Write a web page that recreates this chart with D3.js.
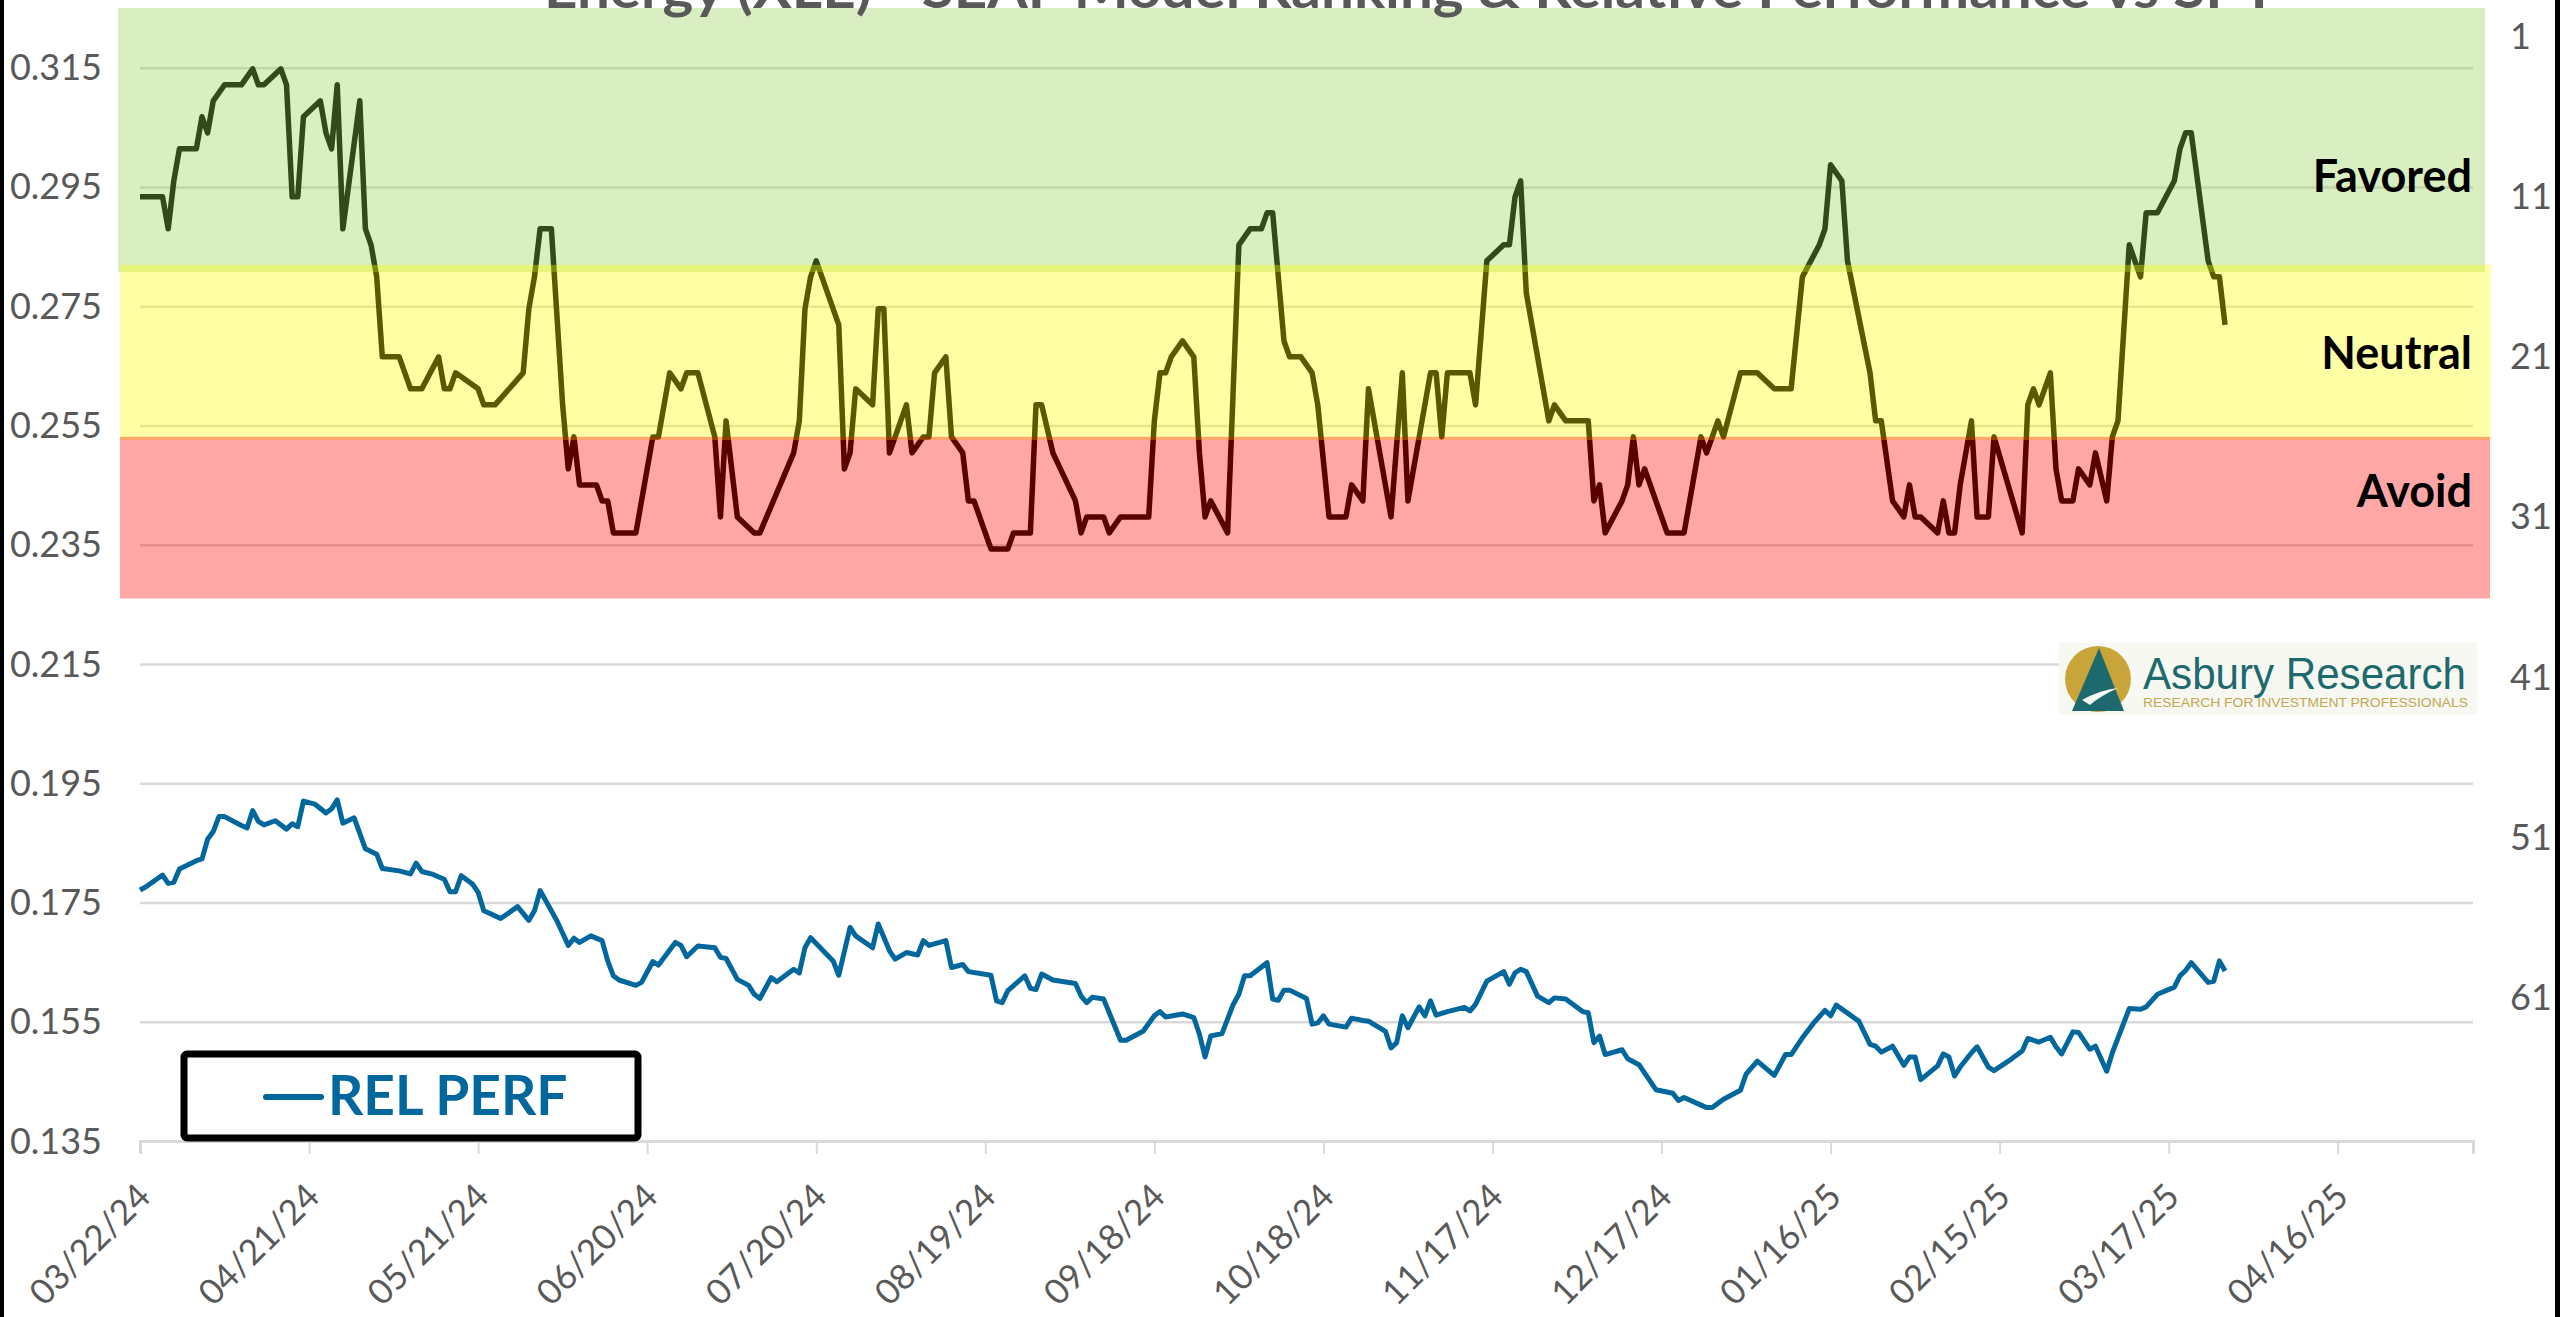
<!DOCTYPE html>
<html>
<head>
<meta charset="utf-8">
<script src="https://cdn.jsdelivr.net/npm/d3@7"></script>
<style>
    body { margin: 0; background: #ffffff; }
    svg { display: block; }
    .axis-label { font-family: Lato, "Open Sans", sans-serif; font-size: 36px; fill: #595959; }
    .xlabel { font-size: 35px; }
    .band-label { font-family: Lato, sans-serif; font-weight: 700; font-size: 45px; fill: #000000; }
</style>
</head>
<body>
<div id="chart"></div>
<script>

// chart text
const chartTitle = "Energy (XLE) - SEAF Model Ranking & Relative Performance vs SPY";
const legendLabel = "REL PERF";

// x axis: 30-day steps starting at the first date
const startDate = "03/22/24";
const dateTicks = ["03/22/24", "04/21/24", "05/21/24", "06/20/24", "07/20/24", "08/19/24", "09/18/24",
    "10/18/24", "11/17/24", "12/17/24", "01/16/25", "02/15/25", "03/17/25", "04/16/25"];

// left axis (relative performance) and right axis (model ranking, reversed)
const perfTicks = [0.135, 0.155, 0.175, 0.195, 0.215, 0.235, 0.255, 0.275, 0.295, 0.315];
const rankTicks = [1, 11, 21, 31, 41, 51, 61];

// ranking zones, in rank units
const bandNames = ["Favored", "Neutral", "Avoid"];
const bandRanks = [[-0.8, 15.7], [15.25, 26.2], [26, 36.1]];
const bandLabelRanks = [9.7, 20.8, 29.4];

// SEAF model ranking: [days after start date, rank]
const rankPoints = [
    [0,11],[4,11],[5,13],[6,10],[7,8],[10,8],[11,6],[12,7],[13,5],[15,4],[18,4],[20,3],[21,4],[22,4],
    [25,3],[26,4],[27,11],[28,11],[29,6],[32,5],[33,7],[34,8],[35,4],[36,13],[39,5],[40,13],[41,14],
    [42,16],[43,21],[46,21],[48,23],[50,23],[53,21],[54,23],[55,23],[56,22],[60,23],[61,24],[63,24],
    [68,22],[69,18],[70,16],[71,13],[73,13],[75,24],[76,28],[77,26],[78,29],[81,29],[82,30],[83,30],
    [84,32],[88,32],[91,26],[92,26],[94,22],[96,23],[97,22],[99,22],[102,26],[103,31],[104,25],[106,31],
    [109,32],[110,32],[116,27],[117,25],[118,18],[119,16],[120,15],[124,19],[125,28],[126,27],[127,23],
    [130,24],[131,18],[132,18],[133,27],[136,24],[137,27],[139,26],[140,26],[141,22],[143,21],[144,26],
    [146,27],[147,30],[148,30],[151,33],[154,33],[155,32],[158,32],[159,24],[160,24],[162,27],[166,30],
    [167,32],[168,31],[171,31],[172,32],[174,31],[179,31],[180,25],[181,22],[182,22],[183,21],[185,20],
    [187,21],[188,27],[189,31],[190,30],[193,32],[195,14],[197,13],[199,13],[200,12],[201,12],[203,20],
    [204,21],[206,21],[208,22],[209,24],[211,31],[214,31],[215,29],[217,30],[218,23],[221,29],[222,31],
    [224,22],[225,30],[229,22],[230,22],[231,26],[232,22],[236,22],[237,24],[239,15],[242,14],[243,14],
    [244,11],[245,10],[246,17],[250,25],[251,24],[253,25],[257,25],[258,30],[259,29],[260,32],[263,30],
    [264,29],[265,26],[266,29],[267,28],[271,32],[274,32],[277,26],[278,27],[280,25],[281,26],[284,22],
    [287,22],[290,23],[293,23],[295,16],[298,14],[299,13],[300,9],[302,10],[303,15],[307,22],[308,25],
    [309,25],[311,30],[313,31],[314,29],[315,31],[316,31],[319,32],[320,30],[321,32],[322,32],[323,29],
    [325,25],[326,31],[328,31],[329,26],[334,32],[335,24],[336,23],[337,24],[339,22],[340,28],[341,30],
    [343,30],[344,28],[346,29],[347,27],[349,30],[350,26],[351,25],[353,14],[355,16],[356,12],[358,12],
    [361,10],[362,8],[363,7],[364,7],[367,15],[368,16],[369,16],[370,19]
];

// XLE relative performance vs SPY: [days after start date, ratio]
const relPerfPoints = [
    [0,.1771],[1,.1776],[4,.1796],[5,.1782],[6,.1784],[7,.1806],[10,.1820],[11,.1823],[12,.1856],
    [13,.1869],[14,.1894],[15,.1894],[18,.1879],[19,.1875],[20,.1904],[21,.1886],[22,.1880],[24,.1887],
    [26,.1873],[27,.1882],[28,.1877],[29,.1920],[31,.1915],[33,.1900],[34,.1907],[35,.1922],[36,.1883],
    [38,.1892],[40,.1840],[42,.1831],[43,.1807],[46,.1803],[48,.1798],[49,.1816],[50,.1802],[52,.1797],
    [54,.1789],[55,.1768],[56,.1768],[57,.1795],[59,.1781],[60,.1767],[61,.1736],[62,.1732],[64,.1723],
    [67,.1743],[69,.1720],[70,.1736],[71,.1770],[74,.1719],[76,.1678],[77,.1690],[78,.1683],[80,.1694],
    [82,.1686],[83,.1652],[84,.1627],[85,.1620],[88,.1611],[89,.1616],[91,.1651],[92,.1645],[95,.1683],
    [96,.1678],[97,.1659],[99,.1677],[102,.1674],[103,.1658],[104,.1656],[106,.1621],[108,.1611],
    [109,.1596],[110,.1589],[112,.1624],[113,.1617],[116,.1638],[117,.1632],[118,.1674],[119,.1691],
    [123,.1652],[124,.1628],[126,.1708],[127,.1694],[130,.1674],[131,.1714],[133,.1669],[134,.1655],
    [136,.1666],[138,.1662],[139,.1686],[140,.1678],[143,.1686],[144,.1641],[146,.1646],[147,.1634],
    [151,.1628],[152,.1585],[153,.1582],[154,.1602],[157,.1627],[158,.1606],[159,.1604],[160,.1630],
    [162,.1620],[166,.1614],[167,.1593],[168,.1582],[169,.1591],[171,.1588],[174,.1519],[175,.1519],
    [178,.1534],[180,.1560],[181,.1567],[182,.1558],[185,.1563],[187,.1557],[188,.1529],[189,.1491],
    [190,.1526],[192,.1530],[194,.1579],[195,.1596],[196,.1627],[197,.1627],[200,.1649],[201,.1588],
    [202,.1586],[203,.1603],[204,.1603],[207,.1589],[208,.1546],[209,.1548],[210,.1560],[211,.1546],
    [214,.1541],[215,.1556],[217,.1552],[218,.1551],[221,.1534],[222,.1506],[223,.1515],[224,.1560],
    [225,.1540],[227,.1575],[228,.1560],[229,.1585],[230,.1561],[232,.1567],[235,.1574],[236,.1568],
    [237,.1579],[239,.1618],[242,.1634],[243,.1613],[244,.1632],[245,.1638],[246,.1634],[248,.1593],
    [250,.1582],[251,.1590],[253,.1588],[256,.1567],[257,.1565],[258,.1515],[259,.1526],[260,.1495],
    [263,.1503],[264,.1488],[266,.1478],[269,.1436],[272,.1430],[273,.1418],[274,.1423],[278,.1406],
    [279,.1406],[281,.1420],[284,.1435],[285,.1462],[287,.1484],[290,.1460],[292,.1495],[293,.1495],
    [295,.1523],[297,.1548],[299,.1569],[300,.1560],[301,.1578],[305,.1551],[307,.1512],[308,.1509],
    [309,.1499],[311,.1509],[313,.1477],[314,.1491],[315,.1491],[316,.1453],[319,.1476],[320,.1496],
    [321,.1491],[322,.1459],[323,.1474],[325,.1498],[326,.1508],[328,.1474],[329,.1468],[332,.1487],
    [334,.1501],[335,.1522],[337,.1516],[339,.1524],[340,.1508],[341,.1496],[343,.1533],[344,.1532],
    [346,.1504],[347,.1509],[349,.1467],[350,.1498],[353,.1572],[355,.1571],[356,.1575],[358,.1596],
    [361,.1608],[362,.1627],[363,.1636],[364,.1649],[367,.1616],[368,.1618],[369,.1652],[370,.1635]
];

/** Class drawing the ranking / relative performance chart. */
class RankingChart {

    constructor() {
        this.width = 2560;
        this.height = 1317;
        this.plot = {left: 140, right: 2473, top: 8, bottom: 1141};

        this.svg = d3.select("#chart").append("svg")
            .attr("width", this.width)
            .attr("height", this.height);
    }

    update() {
        let parse = d3.timeParse("%m/%d/%y");
        let fmt = d3.timeFormat("%m/%d/%y");
        let start = parse(startDate);
        let toDate = d => d3.timeDay.offset(start, d);

        let x = d3.scaleTime()
            .domain([start, d3.timeDay.offset(start, 414)])
            .range([this.plot.left, this.plot.right]);
        let yPerf = d3.scaleLinear()
            .domain([0.135, 0.325])
            .range([this.plot.bottom, this.plot.top]);
        let yRank = d3.scaleLinear()
            .domain([-0.8, 70])
            .range([this.plot.top, this.plot.bottom]);
        let bandColor = d3.scaleOrdinal()
            .domain(bandNames)
            .range(["#92d050", "#ffff00", "#ff0000"]);

        // horizontal gridlines
        this.svg.append("g")
            .attr("transform", "translate(" + this.plot.left + ",0)")
            .call(d3.axisLeft(yPerf).tickValues(perfTicks).tickSize(-(this.plot.right - this.plot.left)).tickFormat(""))
            .call(g => g.select(".domain").remove())
            .call(g => g.selectAll("line").attr("stroke", "#d9d9d9").attr("stroke-width", 2.5));

        // ranking line sits under the translucent zones, like in the original
        let rankLine = d3.line()
            .x(d => x(toDate(d[0])))
            .y(d => yRank(d[1]));
        this.svg.append("path")
            .datum(rankPoints)
            .attr("d", rankLine)
            .attr("fill", "none")
            .attr("stroke", "#000000")
            .attr("stroke-width", 5.5)
            .attr("stroke-linejoin", "round");

        // zones
        let bands = bandNames.map((name, i) => ({name: name, r0: bandRanks[i][0], r1: bandRanks[i][1], labelRank: bandLabelRanks[i]}));
        let bandX = [118, 120, 120];
        let bandW = [2367, 2371, 2370];
        this.svg.selectAll("rect.band").data(bands).enter().append("rect")
            .classed("band", true)
            .attr("x", (d, i) => bandX[i])
            .attr("width", (d, i) => bandW[i])
            .attr("y", d => yRank(d.r0))
            .attr("height", d => yRank(d.r1) - yRank(d.r0))
            .attr("fill", d => bandColor(d.name))
            .attr("fill-opacity", 0.35);

        this.svg.selectAll("text.band-label").data(bands).enter().append("text")
            .classed("band-label", true)
            .attr("x", this.plot.right - 1)
            .attr("y", d => yRank(d.labelRank))
            .attr("dy", "0.35em")
            .attr("text-anchor", "end")
            .text(d => d.name);

        // relative performance
        let perfLine = d3.line()
            .x(d => x(toDate(d[0])))
            .y(d => yPerf(d[1]));
        this.svg.append("path")
            .datum(relPerfPoints)
            .attr("d", perfLine)
            .attr("fill", "none")
            .attr("stroke", "#02679d")
            .attr("stroke-width", 5)
            .attr("stroke-linejoin", "round");

        // bottom axis line and ticks
        let tickDates = dateTicks.map(parse);
        this.svg.append("g")
            .attr("transform", "translate(0," + this.plot.bottom + ")")
            .call(d3.axisBottom(x).tickValues(tickDates).tickSize(13).tickFormat(""))
            .call(g => g.select(".domain").attr("stroke", "#d9d9d9").attr("stroke-width", 3))
            .call(g => g.selectAll(".tick line").attr("stroke", "#d9d9d9").attr("stroke-width", 2));

        this.svg.selectAll("text.xlabel").data(tickDates).enter().append("text")
            .attr("class", "axis-label xlabel")
            .attr("transform", d => "translate(" + (x(d) + 4) + ",1190) rotate(-45)")
            .attr("dy", "0.35em")
            .attr("text-anchor", "end")
            .text(d => fmt(d));

        // left and right tick labels
        this.svg.selectAll("text.ylabel").data(perfTicks).enter().append("text")
            .attr("class", "axis-label ylabel")
            .attr("x", 102)
            .attr("y", d => yPerf(d))
            .attr("dy", "0.35em")
            .attr("text-anchor", "end")
            .text(d => d3.format(".3f")(d));

        this.svg.selectAll("text.rlabel").data(rankTicks).enter().append("text")
            .attr("class", "axis-label rlabel")
            .attr("x", 2510)
            .attr("y", d => yRank(d))
            .attr("dy", "0.35em")
            .text(d => d);

        // legend
        let legend = this.svg.append("g");
        legend.append("rect")
            .attr("x", 184).attr("y", 1054)
            .attr("width", 454).attr("height", 84)
            .attr("rx", 3)
            .attr("fill", "#ffffff")
            .attr("stroke", "#000000")
            .attr("stroke-width", 7);
        legend.append("line")
            .attr("x1", 266).attr("x2", 321)
            .attr("y1", 1097).attr("y2", 1097)
            .attr("stroke", "#02679d")
            .attr("stroke-width", 6)
            .attr("stroke-linecap", "round");
        legend.append("text")
            .attr("x", 328).attr("y", 1115)
            .style("font-family", "Lato, sans-serif")
            .style("font-weight", 700)
            .style("font-size", "55px")
            .attr("fill", "#02679d")
            .text(legendLabel);

        this.drawLogo();

        // title, cut off by the top edge
        this.svg.append("text")
            .attr("x", 1411).attr("y", 8)
            .attr("text-anchor", "middle")
            .attr("textLength", 1734)
            .attr("lengthAdjust", "spacingAndGlyphs")
            .style("font-family", "Lato, sans-serif")
            .style("font-weight", 700)
            .style("font-size", "54px")
            .attr("fill", "#595959")
            .text(chartTitle);

        // frame edges of the screenshot
        this.svg.append("rect").attr("x", 0).attr("y", 0).attr("width", 4).attr("height", this.height).attr("fill", "#000");
        this.svg.append("rect").attr("x", 2555).attr("y", 0).attr("width", 5).attr("height", this.height).attr("fill", "#000");
    }

    drawLogo() {
        let logo = this.svg.append("g");
        logo.append("rect")
            .attr("x", 2059).attr("y", 643)
            .attr("width", 418).attr("height", 72)
            .attr("fill", "#f6f8f1");
        logo.append("circle")
            .attr("cx", 2098).attr("cy", 679).attr("r", 33)
            .attr("fill", "#c9a43a");
        logo.append("path")
            .attr("d", "M2099,648 L2124,711 L2072,711 Z")
            .attr("fill", "#1d6a6e");
        logo.append("path")
            .attr("d", "M2082,700 Q2100,690 2118,688 Q2100,696 2090,705 Z")
            .attr("fill", "#f6f8f1");
        logo.append("text")
            .attr("x", 2143).attr("y", 689)
            .attr("textLength", 323)
            .attr("lengthAdjust", "spacingAndGlyphs")
            .style("font-family", "'Liberation Sans', Arial, sans-serif")
            .style("font-size", "44px")
            .attr("fill", "#1d6a6e")
            .text("Asbury Research");
        logo.append("text")
            .attr("x", 2143).attr("y", 707)
            .attr("textLength", 325)
            .attr("lengthAdjust", "spacingAndGlyphs")
            .style("font-family", "'Liberation Sans', Arial, sans-serif")
            .style("font-size", "12px")
            .attr("fill", "#c4a654")
            .text("RESEARCH FOR INVESTMENT PROFESSIONALS");
    }
}

let chart = new RankingChart();
chart.update();

</script>
</body>
</html>
